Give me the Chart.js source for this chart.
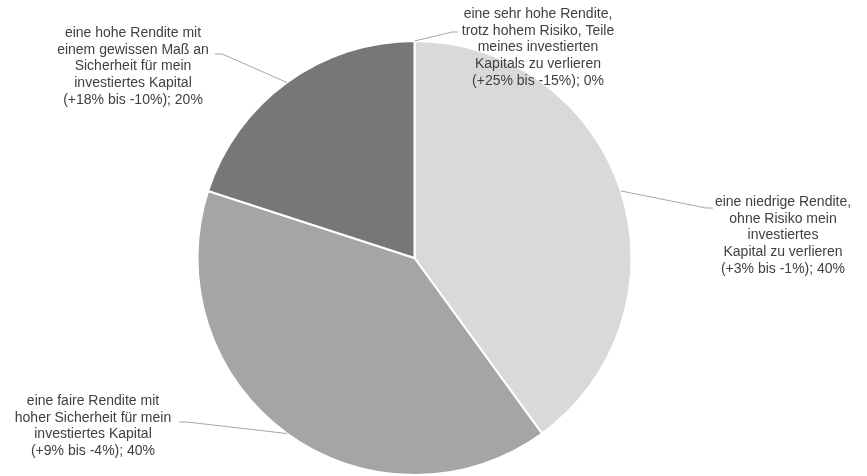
<!DOCTYPE html>
<html>
<head>
<meta charset="utf-8">
<script src="https://cdn.jsdelivr.net/npm/chart.js@4.4.0/dist/chart.umd.min.js"></script>
<style>
  html, body { margin: 0; padding: 0; background: #fff; }
  #wrap { width: 867px; height: 476px; position: relative; }
</style>
</head>
<body>
<div id="wrap"><canvas id="pie"></canvas></div>
<script>
// Chart data
const categories = [
  ['eine sehr hohe Rendite,', 'trotz hohem Risiko, Teile', 'meines investierten', 'Kapitals zu verlieren', '(+25% bis -15%)'],
  ['eine niedrige Rendite,', 'ohne Risiko mein', 'investiertes', 'Kapital zu verlieren', '(+3% bis -1%)'],
  ['eine faire Rendite mit', 'hoher Sicherheit für mein', 'investiertes Kapital', '(+9% bis -4%)'],
  ['eine hohe Rendite mit', 'einem gewissen Maß an', 'Sicherheit für mein', 'investiertes Kapital', '(+18% bis -10%)']
];
const shares = [0, 40, 40, 20];
const colors = ['#404040', '#d9d9d9', '#a5a5a5', '#777777'];

// Label placement: text block center x, first line y, elbow point, stub end
const labelPos = [
  { x: 538, y: 14,  elbow: [452, 32], stub: [458, 32] },
  { x: 783, y: 202, elbow: [706, 208], stub: [713, 208] },
  { x: 93,  y: 401, elbow: [187, 422], stub: [179, 422] },
  { x: 133, y: 33,  elbow: [222, 54], stub: [215, 54] }
];

const lineH = 16.7;

// Draw Excel-style labels with leader lines
const outsideLabels = {
  id: 'outsideLabels',
  afterDraw(chart) {
    const ctx = chart.ctx;
    const arcs = chart.getDatasetMeta(0).data;
    ctx.save();
    arcs.forEach((arc, i) => {
      const p = labelPos[i];
      const mid = (arc.startAngle + arc.endAngle) / 2;
      const sx = arc.x + Math.cos(mid) * arc.outerRadius;
      const sy = arc.y + Math.sin(mid) * arc.outerRadius;
      ctx.strokeStyle = '#a6a6a6';
      ctx.lineWidth = 1;
      ctx.beginPath();
      ctx.moveTo(sx, sy);
      ctx.lineTo(p.elbow[0], p.elbow[1]);
      ctx.lineTo(p.stub[0], p.stub[1]);
      ctx.stroke();

      const lines = categories[i].slice();
      lines[lines.length - 1] += '; ' + shares[i] + '%';
      ctx.fillStyle = '#404040';
      ctx.font = '14px "Liberation Sans", Arial, sans-serif';
      ctx.textAlign = 'center';
      ctx.textBaseline = 'middle';
      lines.forEach((t, k) => ctx.fillText(t, p.x, p.y + k * lineH));
    });
    ctx.restore();
  }
};

new Chart(document.getElementById('pie'), {
  type: 'pie',
  data: {
    labels: categories.map(c => c.join(' ')),
    datasets: [{
      data: shares,
      backgroundColor: colors,
      borderColor: '#ffffff',
      borderWidth: 2
    }]
  },
  options: {
    responsive: true,
    maintainAspectRatio: false,
    animation: false,
    rotation: 0,
    layout: { padding: { top: 40, bottom: 0, left: 0, right: 38 } },
    plugins: {
      legend: { display: false },
      tooltip: { enabled: false }
    }
  },
  plugins: [outsideLabels]
});
</script>
</body>
</html>
